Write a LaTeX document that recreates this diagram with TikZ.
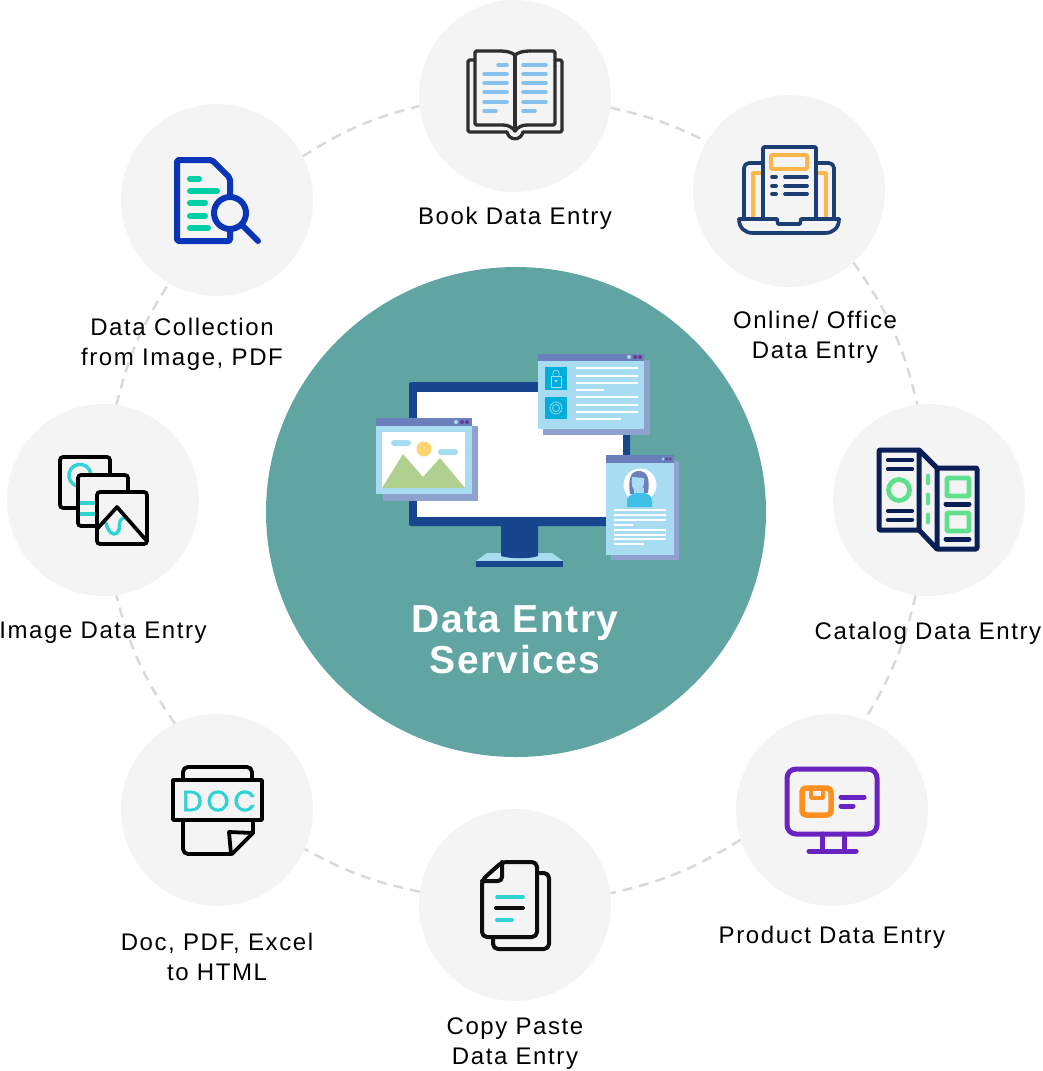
\documentclass[tikz,border=0pt]{standalone}
\usepackage{fontspec}
\usetikzlibrary{shapes.geometric}
\setmainfont{Liberation Sans}[LetterSpace=6.6]
\newfontfamily\titlefont{Liberation Sans}[LetterSpace=3.8]
\newfontfamily\docfont{Poppins}[LetterSpace=14,FakeBold=2]
\definecolor{circ}{HTML}{F4F4F4}
\definecolor{teal0}{HTML}{61A5A2}
\definecolor{dash0}{HTML}{D9D9D9}
\definecolor{bookk}{HTML}{2E2E2E}
\definecolor{bookb}{HTML}{85C1EC}
\definecolor{navy1}{HTML}{1C3F73}
\definecolor{orng1}{HTML}{FDB64A}
\definecolor{blue2}{HTML}{0A35B8}
\definecolor{grn2}{HTML}{00CFA6}
\definecolor{cyan3}{HTML}{2FD3D3}
\definecolor{navy4}{HTML}{0A1F55}
\definecolor{grn4}{HTML}{5FE08C}
\definecolor{purp5}{HTML}{6A22C0}
\definecolor{orng5}{HTML}{FF9020}
\definecolor{monb}{HTML}{17468F}
\definecolor{wlight}{HTML}{A8DCF0}
\definecolor{wshad}{HTML}{8EA1CF}
\definecolor{wbar}{HTML}{6B7FBD}
\definecolor{wdot}{HTML}{6B3A8E}
\definecolor{wsq}{HTML}{00AEDB}
\definecolor{wsun}{HTML}{FDD36F}
\definecolor{wmnt}{HTML}{AFD08E}
\definecolor{wbody}{HTML}{40C0E4}
\tikzset{
  bubble/.style={circle,fill=circ,minimum size=192pt,inner sep=0pt},
  hub/.style={ellipse,fill=teal0,minimum width=500pt,minimum height=490pt,inner sep=0pt},
  link/.style={draw=dash0,line width=2.5pt,dash pattern=on 10pt off 7pt},
  lab/.style={font=\fontsize{24}{30}\selectfont,align=center,text=black,inner sep=0pt},
  ttl/.style={font=\titlefont\bfseries\fontsize{39}{41}\selectfont,align=center,text=white,inner sep=0pt},
  txtl/.style={line width=2pt,draw=white},
}
\begin{document}
\begin{tikzpicture}[x=1pt,y=-1pt]
\useasboundingbox (0,0) rectangle (1042,1071);
% bubbles
\node[hub] (hub) at (516,512) {};
\node[bubble] (book) at (515,96) {};
\node[bubble] (online) at (789,191) {};
\node[bubble] (catalog) at (929,500) {};
\node[bubble] (product) at (832,810) {};
\node[bubble] (copy) at (515,905) {};
\node[bubble] (doc) at (217,810) {};
\node[bubble] (image) at (103,500) {};
\node[bubble] (coll) at (217,200) {};
% connectors
\draw[link] (book.-7.1) to[bend left=7] (online.149.4);
\draw[link] (online.-48.9) to[bend left=11] (catalog.97.8);
\draw[link] (catalog.-98.4) to[bend left=9] (product.70.8);
\draw[link] (product.198.6) to[bend left=9.6] (copy.7.1);
\draw[link] (copy.172.8) to[bend left=8.5] (doc.-24);
\draw[link] (doc.116.3) to[bend left=10] (image.-82.8);
\draw[link] (image.82.8) to[bend left=9.2] (coll.240);
\draw[link] (coll.27.9) to[bend left=9] (book.186.6);
% labels
\node[lab] (lbook) at (515,218) {Book Data Entry};
\node[lab] (lonline) at (815,337) {Online/ Office\\Data Entry};
\node[lab] (lcat) at (928,633) {Catalog Data Entry};
\node[lab] (lprod) at (832,937) {Product Data Entry};
\node[lab] (lcopy) at (515,1044) {Copy Paste\\Data Entry};
\node[lab] (ldoc) at (217,957) {Doc, PDF, Excel\\to HTML};
\node[lab] (limg) at (103,633) {Image Data Entry};
\node[lab] (lcoll) at (182,344) {Data Collection\\from Image, PDF};
\node[ttl] (ltitle) at (515,640) {Data Entry\\Services};
% ---- book icon
\begin{scope}[line width=3.3pt,draw=bookk,line cap=round,line join=round]
\draw[rounded corners=1.5pt] (475,60) -- (468,60) -- (468,132) -- (507,132);
\draw (507,132) .. controls (509,141) and (521,141) .. (523,132);
\draw[rounded corners=1.5pt] (523,132) -- (562,132) -- (562,60) -- (555,60);
\draw[rounded corners=1.5pt] (555,66) -- (555,51) -- (530,51);
\draw (530,51) .. controls (524,51) and (519,52) .. (515,55);
\draw (515,55) .. controls (511,52) and (506,51) .. (500,51);
\draw[rounded corners=1.5pt] (500,51) -- (475,51) -- (475,125) -- (503,125);
\draw (503,125) .. controls (508,125) and (512,127) .. (515,131);
\draw (515,131) .. controls (518,127) and (522,125) .. (527,125);
\draw[rounded corners=1.5pt] (527,125) -- (555,125) -- (555,66);
\draw (515,55) -- (515,131);
\end{scope}
\begin{scope}[line width=3.5pt,draw=bookb,line cap=round]
\draw (498,65) -- (507,65);
\foreach \yy in {74,83,92,102} {\draw (484,\yy) -- (507,\yy);}
\draw (484,111) -- (496,111);
\foreach \yy in {65,74,83,92,102} {\draw (523,\yy) -- (546,\yy);}
\draw (523,111) -- (535,111);
\end{scope}
% ---- laptop icon
\draw[orng1,line width=3.8pt,line join=round] (753,219) -- (753,173) -- (762,173);
\draw[orng1,line width=3.8pt,line join=round] (826,219) -- (826,173) -- (816,173);
\draw[orng1,line width=3.8pt,rounded corners=1pt] (771,155) rectangle (807,169);
\begin{scope}[line width=3.7pt,draw=navy1,line cap=round,line join=round]
\draw[rounded corners=5pt] (762,163) -- (744,163) -- (744,219);
\draw[rounded corners=5pt] (816,163) -- (834,163) -- (834,219);
\draw[rounded corners=1pt] (763,219) -- (763,147) -- (816,147) -- (816,219);
\draw (739,219) -- (777,219) -- (778,224) -- (800,224) -- (801,219) -- (839,219);
\draw (739,219) .. controls (739,228) and (745,233) .. (753,233) -- (825,233) .. controls (833,233) and (839,228) .. (839,219);
\foreach \yy in {177,186,194} {\draw (772,\yy) -- (776,\yy); \draw (785,\yy) -- (807,\yy);}
\end{scope}
% ---- search-document icon
\draw[blue2,line width=6pt,line cap=round,line join=round,rounded corners=2pt] (230,195) -- (230,178) -- (212,160) -- (177,160) -- (177,241) -- (230,241) -- (230,231);
\draw[blue2,line width=6pt] (230,213) circle[radius=16];
\draw[blue2,line width=6pt,line cap=round] (243,226) -- (258,241);
\begin{scope}[grn2,line width=6pt,line cap=round]
\draw (190,179) -- (199,179);
\draw (190,191) -- (217,191);
\draw (190,203) -- (205,203);
\draw (190,216) -- (205,216);
\draw (190,228) -- (208,228);
\end{scope}
% ---- images icon
\draw[cyan3,line width=3.4pt] (77,486) arc[start angle=105,end angle=395,radius=11];
\draw[black,line width=3.7pt,rounded corners=3pt] (60,457) rectangle (110,508);
\fill[circ,rounded corners=3pt] (78,475) rectangle (128,526);
\draw[black,line width=3.7pt,rounded corners=3pt] (78,475) rectangle (128,526);
\draw[cyan3,line width=3.4pt] (80,503) -- (97,503) (80,514) -- (97,514);
\fill[circ,rounded corners=3pt] (97,492) rectangle (147,544);
\draw[cyan3,line width=3.4pt,line cap=round] (106,523) .. controls (108,532) and (113,536) .. (117,533) .. controls (122,530) and (116,520) .. (124,518);
\draw[black,line width=3.7pt,rounded corners=3pt] (97,492) rectangle (147,544);
\draw[black,line width=3.7pt,line join=round,line cap=round] (98,528) -- (117,507) -- (146,540);
% ---- catalog icon
\begin{scope}[line width=5pt,draw=navy4,line join=round,line cap=round]
\draw[rounded corners=1pt] (879,450) rectangle (919,530);
\draw[rounded corners=1pt] (937,468) rectangle (977,549);
\draw (919,450) -- (937,468) (919,530) -- (937,549);
\draw (946,504) -- (969,504) (946,539) -- (969,539);
\end{scope}
\begin{scope}[line width=4.2pt,draw=navy4,line cap=round]
\foreach \yy in {460,469,511,520} {\draw (888,\yy) -- (912,\yy);}
\end{scope}
\begin{scope}[line width=4.8pt,draw=grn4]
\draw (899,490) circle[radius=10.5];
\draw[rounded corners=1pt] (947,478) rectangle (969,496);
\draw[rounded corners=1pt] (947,513) rectangle (969,531);
\draw[line cap=round] (928,476) -- (928,483) (928,495) -- (928,503) (928,515) -- (928,522);
\end{scope}
% ---- product icon
\begin{scope}[line width=5pt,draw=purp5,line cap=round,line join=round]
\draw[rounded corners=9pt] (787,769) rectangle (877,834);
\draw (822,834) -- (822,851) (844,834) -- (844,851) (809,851) -- (856,851);
\draw (841,797) -- (864,797) (841,806) -- (853,806);
\end{scope}
\draw[orng5,line width=5.5pt,rounded corners=4pt] (802,788) rectangle (831,815);
\draw[orng5,line width=3.8pt,line join=round] (811,788) -- (811,798) -- (823,798) -- (823,788);
% ---- copy icon
\begin{scope}[line width=4pt,draw=black!95,line cap=round,line join=round]
\draw[rounded corners=5pt] (540,873) -- (549,873) -- (549,949) -- (493,949) -- (493,938);
\draw[rounded corners=5pt] (502,862) -- (537,862) -- (537,937) -- (482,937) -- (482,880) -- cycle;
\draw[rounded corners=4pt] (502,862) -- (502,881) -- (482,881);
\draw (496,908) -- (523,908);
\end{scope}
\draw[cyan3,line width=3.6pt,line cap=round] (497,897) -- (523,897) (497,920) -- (512,920);
% ---- doc icon
\begin{scope}[line width=3.8pt,draw=black,line join=round,line cap=round]
\draw[rounded corners=5pt] (183,779) -- (183,767) -- (252,767) -- (252,779);
\draw (173,780) rectangle (262,820);
\draw[rounded corners=5pt] (183,820) -- (183,854) -- (232,854);
\draw (232,854) -- (253,833) -- (253,820);
\draw (253,833) -- (229,832) -- (231,854);
\end{scope}
\node[font=\docfont\fontsize{29}{29}\selectfont,text=cyan3,inner sep=0pt] (doctext) at (219,801) {DOC};
% ---- central illustration
\fill[monb,rounded corners=2pt] (409,382) rectangle (630,526);
\fill[white] (417,392) rectangle (623,517);
\fill[wlight] (476,561) -- (487,553) -- (552,553) -- (563,561) -- cycle;
\fill[monb] (476,561) rectangle (563,567);
\fill[monb] (501,526) -- (501,556) .. controls (510,559) and (530,559) .. (538,556) -- (538,526) -- cycle;
% window A
\fill[wshad] (383,426) rectangle (478,501);
\fill[wlight] (376,418) rectangle (472,494);
\fill[wbar] (376,418) rectangle (472,426);
\fill[wlight] (456,422) circle[radius=2];
\fill[wdot] (462,422) circle[radius=2];
\fill[wdot] (467,422) circle[radius=2];
\fill[white] (382,432) rectangle (465,488);
\fill[wlight,rounded corners=3pt] (391,440) rectangle (411,446);
\fill[wlight,rounded corners=3pt] (438,449) rectangle (458,455);
\fill[wsun] (424,449) circle[radius=7.5];
\fill[wmnt] (382,488) -- (403,454) -- (423,477) -- (440,458) -- (465,488) -- cycle;
% window B
\fill[wshad] (543,360) rectangle (650,435);
\fill[wlight] (538,354) rectangle (644,429);
\fill[wbar] (538,354) rectangle (644,361);
\fill[wlight] (629,357) circle[radius=2];
\fill[wdot] (635,357) circle[radius=2];
\fill[wdot] (640,357) circle[radius=2];
\fill[wsq] (545,367) rectangle (567,390);
\fill[wsq] (545,397) rectangle (567,419);
\draw[wlight,line width=.7pt] (551,376) rectangle (561,387);
\draw[wlight,line width=.7pt] (553,376) -- (553,373) arc[start angle=180,end angle=360,radius=3] -- (559,376);
\fill[wlight] (556,381) circle[radius=1.5];
\draw[wlight,line width=1pt,dash pattern=on 1pt off .7pt] (556,408) circle[radius=6];
\draw[wlight,line width=.7pt] (556,408) circle[radius=3.5];
\draw[txtl] (576,368) -- (638,368) (576,376) -- (638,376) (576,383) -- (638,383) (576,390) -- (604,390);
\draw[txtl] (576,397) -- (638,397) (576,405) -- (638,405) (576,412) -- (638,412) (576,419) -- (621,419);
% window C
\fill[wshad] (611,461) rectangle (679,560);
\fill[wlight] (606,455) rectangle (674,555);
\fill[wbar] (606,455) rectangle (674,463);
\fill[wlight] (663,459) circle[radius=1.5];
\fill[wdot] (666.5,459) circle[radius=1.5];
\fill[wdot] (670,459) circle[radius=1.5];
\fill[white] (640,485) circle[radius=16.5];
\fill[wbar] (630,494) .. controls (628,480) and (630,471) .. (639,471) .. controls (648,471) and (650,480) .. (648,493) -- cycle;
\fill[wlight] (632,477) -- (644,478) .. controls (645,487) and (641,492) .. (637,492) .. controls (632,490) and (631,484) .. (632,477) -- cycle;
\fill[wlight] (634,488) rectangle (644,496);
\fill[wbody] (627,507) -- (627,500) .. controls (628,495) and (633,494) .. (635,493) -- (645,493) .. controls (648,494) and (651,495) .. (652,500) -- (652,507) -- cycle;
\begin{scope}[line width=1.4pt,draw=white]
\draw (614,510) -- (666,510) (614,515) -- (666,515) (614,520) -- (666,520) (614,525) -- (633,525);
\draw (614,530) -- (666,530) (614,535) -- (666,535) (614,539) -- (666,539) (614,544) -- (644,544);
\end{scope}
\end{tikzpicture}
\end{document}
